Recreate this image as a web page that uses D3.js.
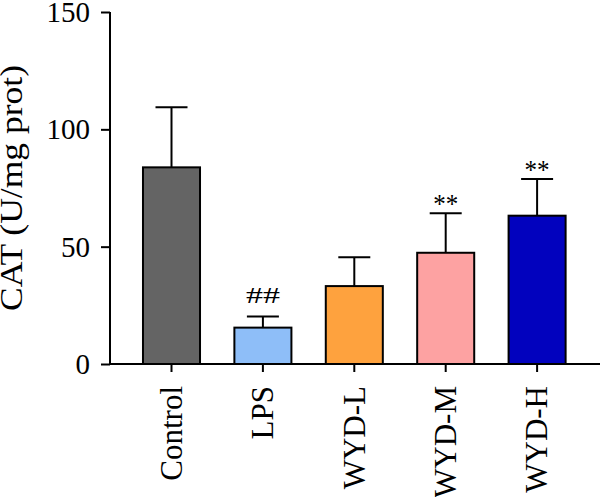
<!DOCTYPE html>
<html>
<head>
<meta charset="utf-8">
<script src="https://cdn.jsdelivr.net/npm/d3@7"></script>
<style>
  body { margin: 0; background: #fff; }
  svg text { font-family: "Liberation Serif", "DejaVu Serif", serif; fill: #000; }
</style>
</head>
<body>
<div id="wrapper"></div>
<script>
// data
const groups = ["Control", "LPS", "WYD-L", "WYD-M", "WYD-H"]
const means = [83.8, 15.5, 33.2, 47.4, 63.2]
const sds = [25.6, 4.7, 12.3, 16.8, 15.6]
const marks = ["", "##", "", "**", "**"]
const colors = ["#646464", "#8ebef8", "#fea23e", "#fda2a2", "#0202be"]
const yTicks = [0, 50, 100, 150]

const width = 600
const height = 497

const wrapper = d3.select("#wrapper")
  .append("svg")
  .attr("width", width)
  .attr("height", height)

// scales
const yScale = d3.scaleLinear()
  .domain([0, 150])
  .range([364, 12])

const xScale = d3.scaleBand()
  .domain(groups)
  .range([125.8, 582.8])
  .paddingInner(0.376)
  .paddingOuter(0.188)

const axisX = 110

// bars
wrapper.append("g")
  .selectAll("rect")
  .data(groups)
  .join("rect")
  .attr("x", d => xScale(d))
  .attr("y", (d, i) => yScale(means[i]))
  .attr("width", xScale.bandwidth())
  .attr("height", (d, i) => yScale(0) - yScale(means[i]))
  .attr("fill", (d, i) => colors[i])
  .attr("stroke", "#000")
  .attr("stroke-width", 2)

// error bars (upper only)
const err = wrapper.append("g")
  .attr("stroke", "#000")
  .attr("stroke-width", 2)
groups.forEach((g, i) => {
  const cx = xScale(g) + xScale.bandwidth() / 2
  err.append("line")
    .attr("x1", cx).attr("x2", cx)
    .attr("y1", yScale(means[i])).attr("y2", yScale(means[i] + sds[i]))
  err.append("line")
    .attr("x1", cx - 16).attr("x2", cx + 16)
    .attr("y1", yScale(means[i] + sds[i])).attr("y2", yScale(means[i] + sds[i]))
})

// significance marks ("*" glyphs sit high, "#" sits on the baseline)
const isStar = s => s.startsWith("*")
wrapper.append("g")
  .selectAll("text")
  .data(groups.filter((d, i) => marks[i]))
  .join("text")
  .attr("x", d => xScale(d) + xScale.bandwidth() / 2)
  .attr("y", d => {
    const i = groups.indexOf(d)
    return yScale(means[i] + sds[i]) - (isStar(marks[i]) ? 0 : 13.5)
  })
  .attr("text-anchor", "middle")
  .attr("textLength", d => isStar(marks[groups.indexOf(d)]) ? 25 : 34)
  .attr("lengthAdjust", "spacingAndGlyphs")
  .style("font-size", d => isStar(marks[groups.indexOf(d)]) ? "27px" : "24px")
  .text(d => marks[groups.indexOf(d)])

// y axis
const yAxisGenerator = d3.axisLeft(yScale)
  .tickValues(yTicks)
  .tickSize(9)
  .tickPadding(11)
const yAxis = wrapper.append("g")
  .attr("transform", `translate(${axisX},0)`)
  .call(yAxisGenerator)
  .attr("font-size", 29)
  .attr("font-family", null)
yAxis.select(".domain").attr("stroke-width", 2).attr("d", `M0,${yScale(150)}V${yScale(0)}`)
yAxis.selectAll(".tick line").attr("stroke-width", 2)
yAxis.selectAll(".tick text").attr("dy", "0.33em")

// x axis
const xAxisGenerator = d3.axisBottom(xScale)
  .tickSize(8)
  .tickSizeOuter(0)
const xAxis = wrapper.append("g")
  .attr("transform", `translate(0,${yScale(0)})`)
  .call(xAxisGenerator)
  .attr("font-size", 31)
  .attr("font-family", null)
xAxis.select(".domain").attr("stroke-width", 2).attr("d", `M${axisX},0H${width}`)
xAxis.selectAll(".tick line").attr("stroke-width", 2)
xAxis.selectAll(".tick text")
  .attr("text-anchor", "end")
  .attr("transform", "rotate(-90)")
  .attr("x", -22)
  .attr("y", 0)
  .attr("dy", "0.33em")

// y label
wrapper.append("text")
  .attr("transform", `translate(22,188) rotate(-90)`)
  .attr("text-anchor", "middle")
  .attr("textLength", 246)
  .attr("lengthAdjust", "spacingAndGlyphs")
  .style("font-size", "31px")
  .text("CAT (U/mg prot)")
</script>
</body>
</html>
